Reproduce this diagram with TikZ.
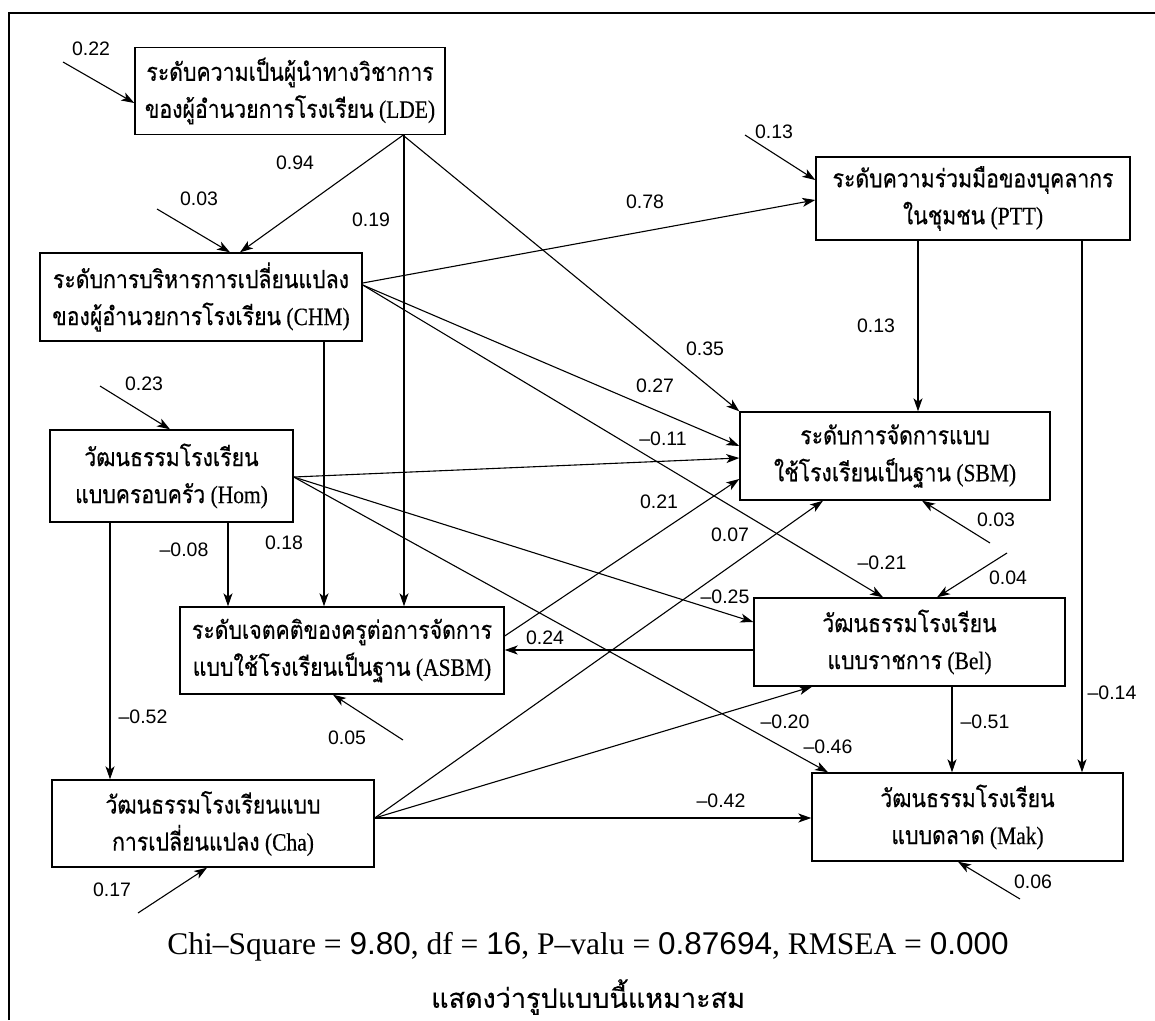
\documentclass[tikz,border=0pt]{standalone}
\usepackage{fontspec}
\setmainfont{Liberation Serif}
\newfontfamily\thaifont[Script=Thai,FakeStretch=0.85,FakeBold=0.4]{Loma}
\newfontfamily\boxfont[FakeStretch=0.86,FakeBold=0.25]{Liberation Serif}
\newfontfamily\notefont[Script=Thai,FakeBold=0.2]{Loma}
\newfontfamily\numfont{Liberation Sans}
\usetikzlibrary{arrows.meta}
\newcommand{\tht}[1]{{\thaifont #1}}
\newcommand{\nf}[1]{{\numfont #1}}

\begin{document}
\begin{tikzpicture}[x=1pt,y=-1pt,->,>={Stealth[length=13pt,width=9pt,inset=3.5pt]},
  line width=1.1pt,
  var node/.style={rectangle,draw,fill=white,line width=1.4pt,align=center,inner sep=2pt,
    minimum height=87pt,font=\boxfont\fontsize{25}{37}\selectfont},
  coef node/.style={inner sep=0pt,font=\numfont\fontsize{19.5}{20}\selectfont},
  frame line/.style={-,line width=2pt}]

  \useasboundingbox (0,0) rectangle (1155,1020);
  \draw[frame line] (9,1020) -- (9,13) -- (1155,13);

  % variables
  \node[var node,minimum width=310pt] (LDE) at (290,91)
    {\tht{ระดับความเป็นผู้นำทางวิชาการ}\\\tht{ของผู้อำนวยการโรงเรียน} (LDE)};
  \node[var node,minimum width=322pt,minimum height=88pt] (CHM) at (201,297)
    {\tht{ระดับการบริหารการเปลี่ยนแปลง}\\\tht{ของผู้อำนวยการโรงเรียน} (CHM)};
  \node[var node,minimum width=314pt,minimum height=83pt] (PTT) at (973,198.5)
    {\tht{ระดับความร่วมมือของบุคลากร}\\\tht{ในชุมชน} (PTT)};
  \node[var node,minimum width=243pt,minimum height=92pt] (Hom) at (171.5,476)
    {\tht{วัฒนธรรมโรงเรียน}\\\tht{แบบครอบครัว} (Hom)};
  \node[var node,minimum width=310pt,minimum height=88pt] (SBM) at (895,456)
    {\tht{ระดับการจัดการแบบ}\\\tht{ใช้โรงเรียนเป็นฐาน} (SBM)};
  \node[var node,minimum width=324pt] (ASBM) at (342,650.5)
    {\tht{ระดับเจตคติของครูต่อการจัดการ}\\\tht{แบบใช้โรงเรียนเป็นฐาน} (ASBM)};
  \node[var node,minimum width=311pt,minimum height=88pt] (Bel) at (909.5,642)
    {\tht{วัฒนธรรมโรงเรียน}\\\tht{แบบราชการ} (Bel)};
  \node[var node,minimum width=322pt] (Cha) at (213,823.5)
    {\tht{วัฒนธรรมโรงเรียนแบบ}\\\tht{การเปลี่ยนแปลง} (Cha)};
  \node[var node,minimum width=311pt,minimum height=88pt] (Mak) at (967.5,817)
    {\tht{วัฒนธรรมโรงเรียน}\\\tht{แบบดลาด} (Mak)};

  % paths
  \draw (403,0 |- LDE.south) -- (CHM.north -| 240,0);
  \draw (404,0 |- LDE.south) -- (ASBM.north -| 404,0);
  \draw (403,0 |- LDE.south) -- (SBM.north west);
  \draw (CHM.east |- 0,283) -- (PTT.west |- 0,200);
  \draw (CHM.east |- 0,285) -- (SBM.west |- 0,446);
  \draw (CHM.east |- 0,285) -- (Bel.north -| 883,0);
  \draw (324,0 |- CHM.south) -- (ASBM.north -| 324,0);
  \draw (918,0 |- PTT.south) -- (SBM.north -| 918,0);
  \draw (1082,0 |- PTT.south) -- (Mak.north -| 1082,0);
  \draw (Hom.east |- 0,477) -- (SBM.west |- 0,458);
  \draw (Hom.east |- 0,477) -- (Bel.west |- 0,622);
  \draw (Hom.east |- 0,477) -- (Mak.north -| 828,0);
  \draw (228,0 |- Hom.south) -- (ASBM.north -| 228,0);
  \draw (110,0 |- Hom.south) -- (Cha.north -| 110,0);
  \draw (ASBM.east |- 0,636) -- (SBM.west |- 0,479);
  \draw (Bel.west |- 0,650) -- (ASBM.east |- 0,650);
  \draw (952,0 |- Bel.south) -- (Mak.north -| 952,0);
  \draw (Cha.east |- 0,818) -- (SBM.south -| 823,0);
  \draw (Cha.east |- 0,818) -- (Bel.south -| 812,0);
  \draw (Cha.east |- 0,818) -- (Mak.west |- 0,818);

  % residuals
  \coordinate (eLDE) at (63,62);
  \coordinate (eCHM) at (157,209);
  \coordinate (ePTT) at (745,135);
  \coordinate (eHom) at (100,386);
  \coordinate (eSBM) at (990,543);
  \coordinate (eBel) at (1007,553);
  \coordinate (eASBM) at (403,740);
  \coordinate (eCha) at (138,913);
  \coordinate (eMak) at (1020,899);
  \draw (eLDE) -- (LDE.west |- 0,103);
  \draw (eCHM) -- (CHM.north -| 230,0);
  \draw (ePTT) -- (PTT.west |- 0,180);
  \draw (eHom) -- (Hom.north -| 170,0);
  \draw (eSBM) -- (SBM.south -| 922,0);
  \draw (eBel) -- (Bel.north -| 937,0);
  \draw (eASBM) -- (ASBM.south -| 333,0);
  \draw (eCha) -- (Cha.south -| 207,0);
  \draw (eMak) -- (Mak.south -| 958,0);

  % coefficients
  \node[coef node] (c22) at (91,49) {0.22};
  \node[coef node] (c03a) at (199,199) {0.03};
  \node[coef node] (c13a) at (774,132) {0.13};
  \node[coef node] (c23) at (144,384) {0.23};
  \node[coef node] (c03b) at (996,520) {0.03};
  \node[coef node] (c04) at (1008,578) {0.04};
  \node[coef node] (c05) at (347,738) {0.05};
  \node[coef node] (c17) at (112,890) {0.17};
  \node[coef node] (c06) at (1033,882) {0.06};
  \node[coef node] (c94) at (295,163) {0.94};
  \node[coef node] (c19) at (371,220) {0.19};
  \node[coef node] (c78) at (645,202) {0.78};
  \node[coef node] (c13b) at (876,326) {0.13};
  \node[coef node] (c35) at (705,349) {0.35};
  \node[coef node] (c27) at (655,386) {0.27};
  \node[coef node] (c11) at (663,439) {–0.11};
  \node[coef node] (c21a) at (659,502) {0.21};
  \node[coef node] (c07) at (730,535) {0.07};
  \node[coef node] (c21b) at (882,563) {–0.21};
  \node[coef node] (c25) at (725,597) {–0.25};
  \node[coef node] (c24) at (545,638) {0.24};
  \node[coef node] (c08) at (184,550) {–0.08};
  \node[coef node] (c18) at (284,543) {0.18};
  \node[coef node] (c52) at (143,717) {–0.52};
  \node[coef node] (c20) at (785,722) {–0.20};
  \node[coef node] (c46) at (828,747) {–0.46};
  \node[coef node] (c51) at (985,722) {–0.51};
  \node[coef node] (c14) at (1112,693) {–0.14};
  \node[coef node] (c42) at (721,801) {–0.42};

  % fit
  \node[inner sep=0pt,font=\fontsize{31.5}{34}\selectfont] (fit) at (588,947)
    {Chi–Square = \nf{9.80}, df = \nf{16}, P–valu = \nf{0.87694}, RMSEA = \nf{0.000}};
  \node[inner sep=0pt,font=\notefont\fontsize{27}{30}\selectfont] (note) at (588,997)
    {แสดงว่ารูปแบบนี้แหมาะสม};
\end{tikzpicture}
\end{document}
